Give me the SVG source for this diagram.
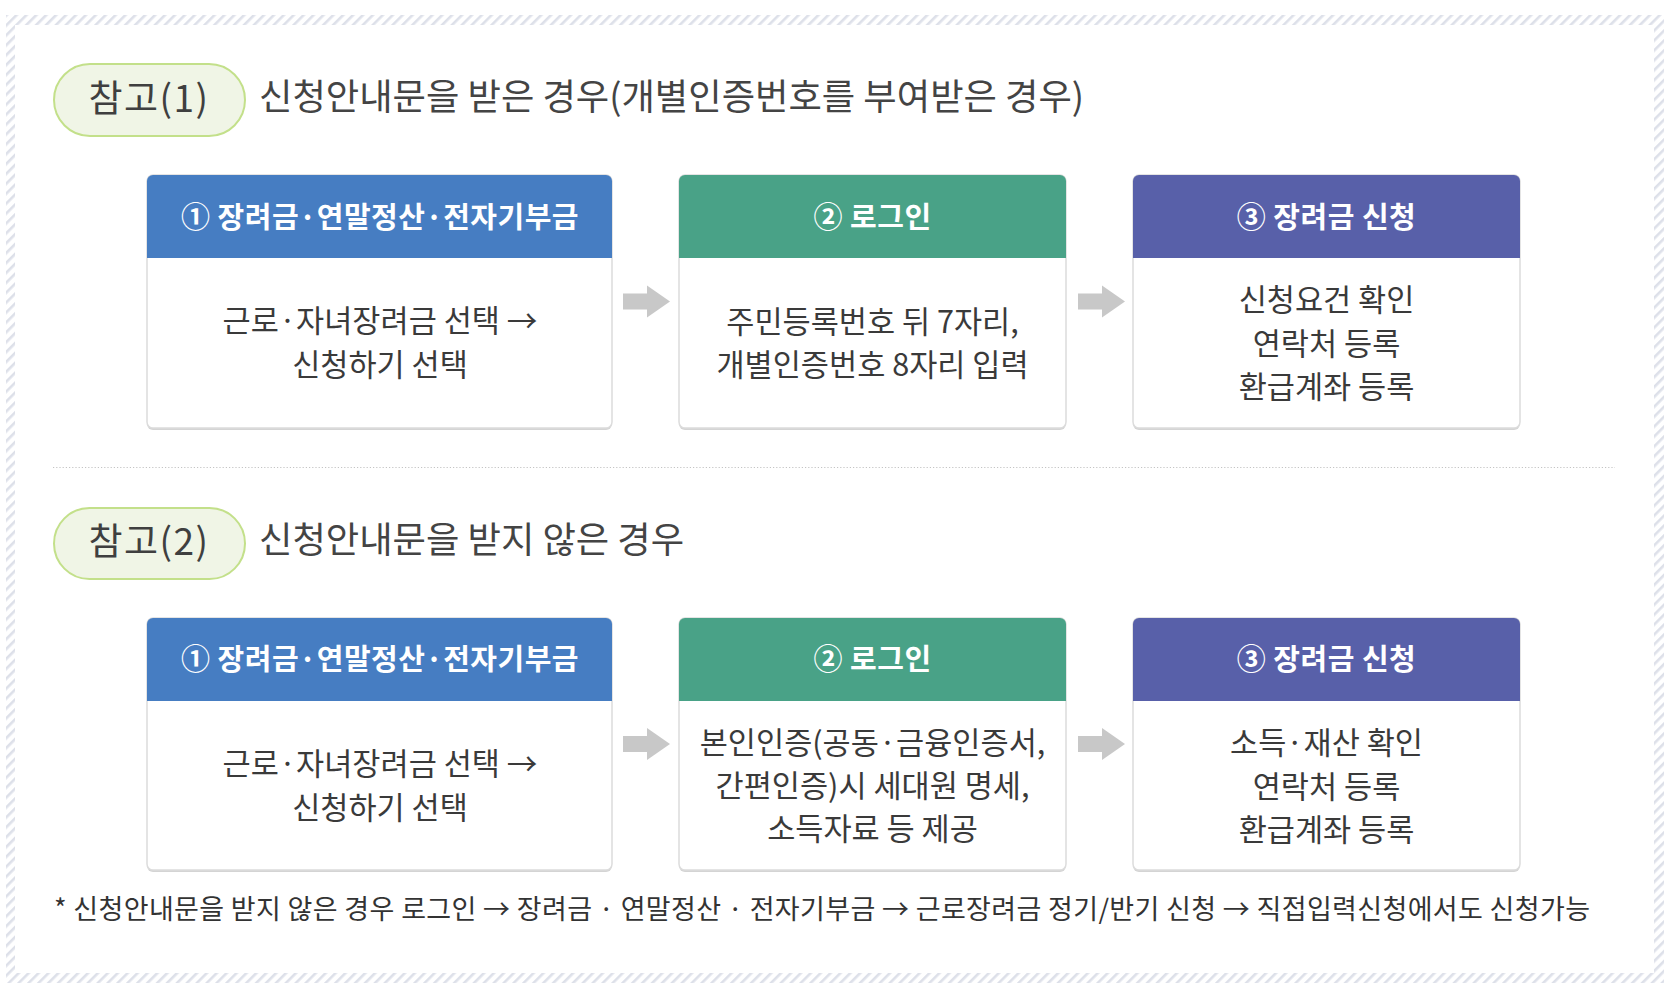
<svg xmlns="http://www.w3.org/2000/svg" width="1672" height="994" viewBox="0 0 1672 994">
<defs>
<pattern id="hatch" width="7" height="7" patternUnits="userSpaceOnUse" patternTransform="rotate(45)">
<rect width="2.6" height="7" fill="#dde0e9"/>
</pattern>
<path id="barrow" d="M0,-8 H24 V-16 L47,0 L24,16 V8 H0 Z"/>
</defs>
<style>
.txt{font-family:"Noto Sans CJK KR","Noto Sans",sans-serif;fill:#444}
.pill{fill:#f0f5e6;stroke:#c3e08a;stroke-width:2}
.pilltxt{font-size:37px;fill:#3f3f3f;letter-spacing:1.5px}
.title{font-size:36.3px}
.box{fill:#fff;stroke:#dcdcdc;stroke-width:1.5}
.shadow{fill:#d4d4d4}
.hdr{font-size:29px;font-weight:700;fill:#fff;letter-spacing:0.5px}
.body{font-size:30.6px;fill:#3a3a3a}
.arrow{fill:#c8c8c8}
.note{font-size:27px;fill:#333}
</style>
<rect width="1672" height="994" fill="#fff"/>
<path d="M6,15 H1664 V983 H6 Z M15,25 V973 H1654 V25 Z" fill="url(#hatch)" fill-rule="evenodd"/>

<g id="pill1">
<rect class="pill" x="54" y="64" width="191" height="72" rx="36"/>
<text class="txt pilltxt" x="149" y="112" text-anchor="middle">참고(1)</text>
</g>
<g id="title1">
<text class="txt title" x="259" y="110">신청안내문을 받은 경우(개별인증번호를 부여받은 경우)</text>
</g>

<g id="r1b1">
<rect class="shadow" x="147" y="177" width="465" height="253" rx="6"/>
<rect class="box" x="147" y="175" width="465" height="253" rx="6"/>
<path d="M147,258 V181 A6,6 0 0 1 153,175 H606 A6,6 0 0 1 612,181 V258 Z" fill="#467dc2"/>
<text class="txt hdr" x="380" y="228" text-anchor="middle">① 장려금·연말정산·전자기부금</text>
<text class="txt body" x="380" y="332" text-anchor="middle">근로·자녀장려금 선택 →</text>
<text class="txt body" x="380" y="376" text-anchor="middle">신청하기 선택</text>
</g>
<g id="r1b2">
<rect class="shadow" x="679" y="177" width="387" height="253" rx="6"/>
<rect class="box" x="679" y="175" width="387" height="253" rx="6"/>
<path d="M679,258 V181 A6,6 0 0 1 685,175 H1060 A6,6 0 0 1 1066,181 V258 Z" fill="#49a287"/>
<text class="txt hdr" x="872.5" y="228" text-anchor="middle">② 로그인</text>
<text class="txt body" x="872.5" y="333" text-anchor="middle">주민등록번호 뒤 7자리,</text>
<text class="txt body" x="872.5" y="376" text-anchor="middle">개별인증번호 8자리 입력</text>
</g>
<g id="r1b3">
<rect class="shadow" x="1133" y="177" width="387" height="253" rx="6"/>
<rect class="box" x="1133" y="175" width="387" height="253" rx="6"/>
<path d="M1133,258 V181 A6,6 0 0 1 1139,175 H1514 A6,6 0 0 1 1520,181 V258 Z" fill="#5860a9"/>
<text class="txt hdr" x="1326.5" y="228" text-anchor="middle">③ 장려금 신청</text>
<text class="txt body" x="1326.5" y="311" text-anchor="middle">신청요건 확인</text>
<text class="txt body" x="1326.5" y="355" text-anchor="middle">연락처 등록</text>
<text class="txt body" x="1326.5" y="398" text-anchor="middle">환급계좌 등록</text>
</g>

<line x1="53" y1="467.5" x2="1615" y2="467.5" stroke="#c4c4c4" stroke-width="1.2" stroke-dasharray="1.2 2"/>

<g id="pill2">
<rect class="pill" x="54" y="508" width="191" height="71" rx="35.5"/>
<text class="txt pilltxt" x="149" y="555" text-anchor="middle">참고(2)</text>
</g>
<g id="title2">
<text class="txt title" x="259" y="553">신청안내문을 받지 않은 경우</text>
</g>

<g id="r2b1">
<rect class="shadow" x="147" y="620" width="465" height="252" rx="6"/>
<rect class="box" x="147" y="618" width="465" height="252" rx="6"/>
<path d="M147,701 V624 A6,6 0 0 1 153,618 H606 A6,6 0 0 1 612,624 V701 Z" fill="#467dc2"/>
<text class="txt hdr" x="380" y="670" text-anchor="middle">① 장려금·연말정산·전자기부금</text>
<text class="txt body" x="380" y="775" text-anchor="middle">근로·자녀장려금 선택 →</text>
<text class="txt body" x="380" y="819" text-anchor="middle">신청하기 선택</text>
</g>
<g id="r2b2">
<rect class="shadow" x="679" y="620" width="387" height="252" rx="6"/>
<rect class="box" x="679" y="618" width="387" height="252" rx="6"/>
<path d="M679,701 V624 A6,6 0 0 1 685,618 H1060 A6,6 0 0 1 1066,624 V701 Z" fill="#49a287"/>
<text class="txt hdr" x="872.5" y="670" text-anchor="middle">② 로그인</text>
<text class="txt body" x="872.5" y="754" text-anchor="middle">본인인증(공동·금융인증서,</text>
<text class="txt body" x="872.5" y="797" text-anchor="middle">간편인증)시 세대원 명세,</text>
<text class="txt body" x="872.5" y="840" text-anchor="middle">소득자료 등 제공</text>
</g>
<g id="r2b3">
<rect class="shadow" x="1133" y="620" width="387" height="252" rx="6"/>
<rect class="box" x="1133" y="618" width="387" height="252" rx="6"/>
<path d="M1133,701 V624 A6,6 0 0 1 1139,618 H1514 A6,6 0 0 1 1520,624 V701 Z" fill="#5860a9"/>
<text class="txt hdr" x="1326.5" y="670" text-anchor="middle">③ 장려금 신청</text>
<text class="txt body" x="1326.5" y="754" text-anchor="middle">소득·재산 확인</text>
<text class="txt body" x="1326.5" y="798" text-anchor="middle">연락처 등록</text>
<text class="txt body" x="1326.5" y="841" text-anchor="middle">환급계좌 등록</text>
</g>

<g id="connectors">
<use href="#barrow" class="arrow" transform="translate(623,301.5)"/>
<use href="#barrow" class="arrow" transform="translate(1078,301.5)"/>
<use href="#barrow" class="arrow" transform="translate(623,744)"/>
<use href="#barrow" class="arrow" transform="translate(1078,744)"/>
</g>

<g id="footnote">
<text class="txt note" x="54" y="919" textLength="1536" lengthAdjust="spacing">* 신청안내문을 받지 않은 경우 로그인 → 장려금 · 연말정산 · 전자기부금 → 근로장려금 정기/반기 신청 → 직접입력신청에서도 신청가능</text>
</g>
</svg>
